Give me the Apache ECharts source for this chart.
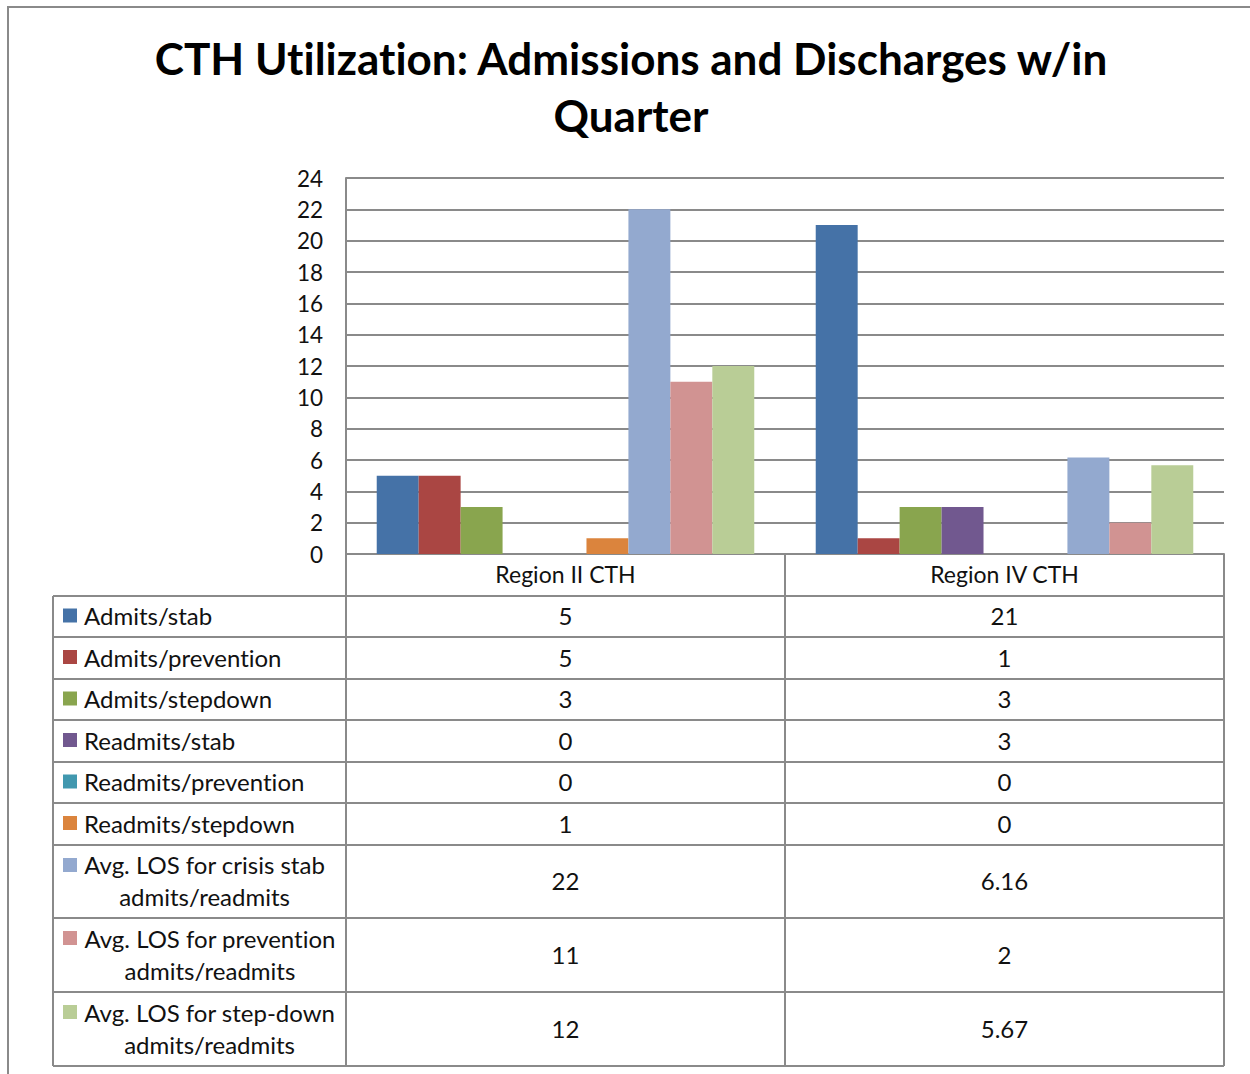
<!DOCTYPE html>
<html lang="en">
  <head>
    <meta charset="UTF-8" />
    <title>CTH Utilization</title>
    <script src="https://cdn.jsdelivr.net/npm/echarts@6/dist/echarts.min.js"></script>
    <style>
      html,
      body {
        margin: 0;
        padding: 0;
        background: #fff;
      }
      #main {
        width: 1250px;
        height: 1074px;
      }
      /* Lato joins "ti", the original font does not */
      #main text {
        font-variant-ligatures: none !important;
        font-feature-settings: "liga" 0, "clig" 0 !important;
      }
    </style>
  </head>
  <body>
    <div id="main"></div>
    <script>
      // data
      const categories = ["Region II CTH", "Region IV CTH"];
      const seriesNames = [
        "Admits/stab",
        "Admits/prevention",
        "Admits/stepdown",
        "Readmits/stab",
        "Readmits/prevention",
        "Readmits/stepdown",
        "Avg. LOS for crisis stab\nadmits/readmits",
        "Avg. LOS for prevention\nadmits/readmits",
        "Avg. LOS for step-down\nadmits/readmits",
      ];
      const admitsStab = [5, 21];
      const admitsPrevention = [5, 1];
      const admitsStepdown = [3, 3];
      const readmitsStab = [0, 3];
      const readmitsPrevention = [0, 0];
      const readmitsStepdown = [1, 0];
      const losCrisisStab = [22, 6.16];
      const losPrevention = [11, 2];
      const losStepdown = [12, 5.67];
      const yMin = 0;
      const yMax = 24;
      const yStep = 2;

      const seriesData = [
        admitsStab,
        admitsPrevention,
        admitsStepdown,
        readmitsStab,
        readmitsPrevention,
        readmitsStepdown,
        losCrisisStab,
        losPrevention,
        losStepdown,
      ];
      const colors = [
        "#4572A7",
        "#AA4643",
        "#89A54E",
        "#71588F",
        "#4198AF",
        "#DB843D",
        "#93A9CF",
        "#D19392",
        "#B9CD96",
      ];

      const FONT = "Lato";
      const GRAY = "#8a8a8a";
      const TABLE_FONT = "24px " + FONT;
      // layout
      const plotLeft = 346;
      const plotRight = 1224;
      const plotTop = 178;
      const plotBottom = 554;
      const tableLeft = 53;
      const rowLines = [596, 637, 679, 720, 762, 803, 845, 918, 992, 1066];

      const chart = echarts.init(document.getElementById("main"), null, {
        renderer: "svg",
      });

      const option = {
        animation: false,
        backgroundColor: "#fff",
        grid: {
          left: plotLeft,
          top: plotTop,
          width: plotRight - plotLeft,
          height: plotBottom - plotTop,
        },
        xAxis: {
          type: "category",
          data: categories,
          axisLine: { lineStyle: { color: GRAY, width: 2 } },
          axisTick: {
            show: true,
            length: rowLines[0] - plotBottom,
            lineStyle: { color: GRAY, width: 2 },
          },
          axisLabel: {
            fontFamily: FONT,
            fontSize: 23,
            color: "#111",
            margin: 8,
          },
        },
        yAxis: {
          type: "value",
          min: yMin,
          max: yMax,
          interval: yStep,
          axisLine: { show: true, lineStyle: { color: GRAY, width: 2 } },
          axisTick: { show: false },
          splitLine: { lineStyle: { color: GRAY, width: 2 } },
          axisLabel: {
            fontFamily: FONT,
            fontSize: 22.5,
            color: "#111",
            margin: 23,
          },
        },
        series: seriesNames.map((name, i) => ({
          name: name,
          type: "bar",
          data: seriesData[i],
          barGap: "0%",
          barCategoryGap: "14%",
          itemStyle: { color: colors[i] },
        })),
      };
      chart.setOption(option);

      // for wrapped row labels each line is centred on the first line
      const ctx = document.createElement("canvas").getContext("2d");
      ctx.font = TABLE_FONT;

      // data table under the axis, columns follow the category axis
      const colX = categories.map((c, i) =>
        chart.convertToPixel({ xAxisIndex: 0 }, i)
      );
      const graphics = [];
      graphics.push({
        type: "rect",
        shape: { x: 8, y: 7, width: 1280, height: 1100 },
        style: { fill: "none", stroke: GRAY, lineWidth: 2 },
        silent: true,
      });
      graphics.push({
        type: "text",
        x: 631,
        y: 86,
        style: {
          text: "CTH Utilization: Admissions and Discharges w/in\nQuarter",
          font: "bold 44px " + FONT,
          fill: "#000",
          align: "center",
          verticalAlign: "middle",
          lineHeight: 57,
        },
      });
      rowLines.forEach((y) => {
        graphics.push({
          type: "line",
          shape: { x1: tableLeft, y1: y, x2: plotRight, y2: y },
          style: { stroke: GRAY, lineWidth: 2 },
        });
      });
      [tableLeft, plotLeft, (colX[0] + colX[1]) / 2, plotRight].forEach(
        (x) => {
          graphics.push({
            type: "line",
            shape: {
              x1: x,
              y1: rowLines[0],
              x2: x,
              y2: rowLines[rowLines.length - 1],
            },
            style: { stroke: GRAY, lineWidth: 2 },
          });
        }
      );
      seriesNames.forEach((name, i) => {
        const top = rowLines[i];
        const bottom = rowLines[i + 1];
        const mid = (top + bottom) / 2;
        const lines = name.split("\n");
        const twoLine = lines.length > 1;
        graphics.push({
          type: "rect",
          shape: {
            x: 63,
            y: twoLine ? top + 13 : mid - 8,
            width: 14,
            height: 14,
          },
          style: { fill: colors[i] },
        });
        graphics.push({
          type: "text",
          x: twoLine ? 84 + ctx.measureText(lines[0]).width / 2 : 84,
          y: mid - 1,
          style: {
            text: name,
            font: TABLE_FONT,
            fill: "#111",
            align: twoLine ? "center" : "left",
            verticalAlign: "middle",
            lineHeight: 32,
          },
        });
        seriesData[i].forEach((v, j) => {
          graphics.push({
            type: "text",
            x: colX[j],
            y: mid - 1,
            style: {
              text: String(v),
              font: TABLE_FONT,
              fill: "#111",
              align: "center",
              verticalAlign: "middle",
            },
          });
        });
      });
      chart.setOption({ graphic: graphics });
    </script>
  </body>
</html>
